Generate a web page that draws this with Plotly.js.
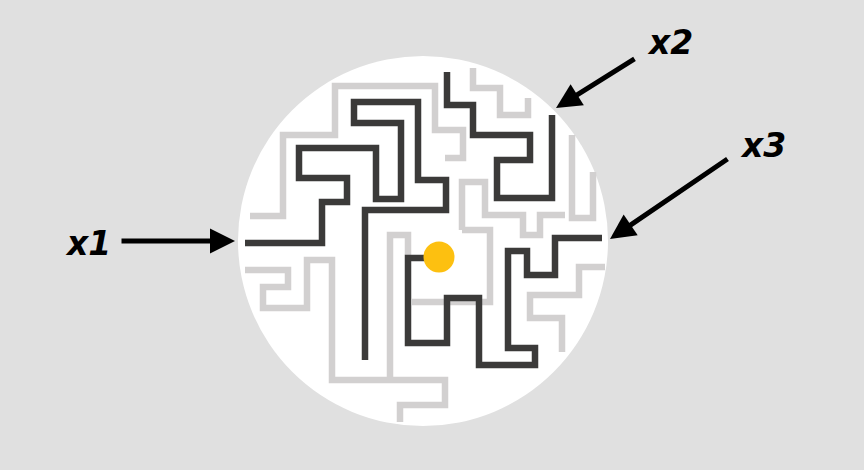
<!DOCTYPE html>
<html><head><meta charset="utf-8">
<script src="https://cdn.plot.ly/plotly-3.0.1.min.js"></script>
<style>html,body{margin:0;padding:0;background:#e0e0e0;}#chart{width:864px;height:470px;}</style>
</head><body><div id="chart"></div>
<script>
// maze paths, in picture pixel coordinates
const darkPaths = [
  { x: [245, 322, 322, 347, 347, 299, 299, 376, 376, 401, 401, 354, 354, 418, 418, 446, 446, 365, 365],
    y: [243, 243, 202, 202, 178, 178, 148, 148, 199, 199, 123, 123, 102, 102, 180, 180, 210, 210, 360] },
  { x: [447, 447, 473, 473, 530, 530, 497, 497, 552, 552],
    y: [72, 105, 105, 135, 135, 160, 160, 198, 198, 115] },
  { x: [602, 555, 555, 527, 527, 508, 508, 535, 535, 479, 479, 447, 447, 408, 408, 435],
    y: [238, 238, 275, 275, 251, 251, 348, 348, 365, 365, 298, 298, 343, 343, 258, 258] }
];
const lightPaths = [
  { x: [250, 283, 283, 335, 335, 435, 435, 463, 463, 445], y: [216, 216, 135, 135, 86, 86, 130, 130, 158, 158] },
  { x: [473, 473, 500, 500, 528, 528], y: [68, 88, 88, 115, 115, 98] },
  { x: [572, 572, 593, 593], y: [135, 218, 218, 172] },
  { x: [462, 462, 485, 485, 523, 523, 540, 540, 565], y: [230, 182, 182, 215, 215, 235, 235, 215, 215] },
  { x: [462, 490, 490, 412], y: [230, 230, 302, 302] },
  { x: [605, 579, 579, 530, 530, 562, 562], y: [267, 267, 295, 295, 318, 318, 352] },
  { x: [245, 288, 288, 263, 263, 307, 307, 332, 332, 445, 445, 400, 400],
    y: [270, 270, 287, 287, 308, 308, 260, 260, 380, 380, 405, 405, 422] },
  { x: [390, 390, 408, 408], y: [380, 235, 235, 255] }
];
const goalX = [439], goalY = [257];
const labels = ['x1', 'x2', 'x3'];
const labelX = [88, 670, 763], labelY = [243, 42, 145];
const arrowFromX = [120, 636, 729], arrowFromY = [241, 58, 158];
const arrowToX = [235, 556, 610], arrowToY = [241, 108, 239];

const traces = [];
lightPaths.forEach(p => traces.push({ x: p.x, y: p.y, type: 'scatter', mode: 'lines',
  line: { color: '#d2d0d0', width: 6.5 }, hoverinfo: 'skip' }));
darkPaths.forEach(p => traces.push({ x: p.x, y: p.y, type: 'scatter', mode: 'lines',
  line: { color: '#3b3a39', width: 6.5 }, hoverinfo: 'skip' }));
traces.push({ x: goalX, y: goalY, type: 'scatter', mode: 'markers',
  marker: { color: '#fdc010', size: 31 }, hoverinfo: 'skip' });

const annotations = [];
labels.forEach((t, i) => {
  annotations.push({ x: labelX[i], y: labelY[i], xref: 'x', yref: 'y', text: '<b><i>' + t + '</i></b>',
    showarrow: false, font: { family: 'DejaVu Sans', size: 33, color: '#000' } });
  annotations.push({ x: arrowToX[i], y: arrowToY[i], ax: arrowFromX[i], ay: arrowFromY[i],
    xref: 'x', yref: 'y', axref: 'x', ayref: 'y', text: '', showarrow: true,
    arrowhead: 2, arrowsize: 1, arrowwidth: 5, arrowcolor: '#000' });
});

const layout = {
  width: 864, height: 470, margin: { t: 0, r: 0, b: 0, l: 0 },
  paper_bgcolor: '#e0e0e0', plot_bgcolor: '#e0e0e0', showlegend: false,
  xaxis: { range: [0, 864], visible: false, fixedrange: true },
  yaxis: { range: [470, 0], visible: false, fixedrange: true },
  shapes: [{ type: 'circle', xref: 'x', yref: 'y', x0: 238, x1: 608, y0: 56, y1: 426,
    fillcolor: '#ffffff', line: { width: 0 }, layer: 'below' }],
  annotations
};
Plotly.newPlot('chart', traces, layout, { displayModeBar: false, staticPlot: true });
</script></body></html>
